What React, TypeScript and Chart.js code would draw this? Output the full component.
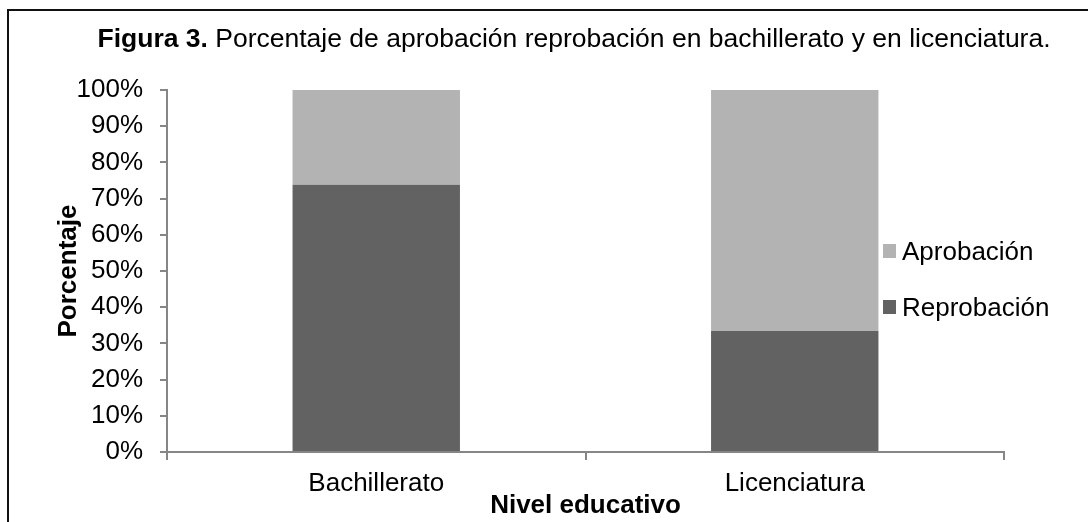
import React, { useEffect, useRef } from "react";
import { Chart, registerables } from "chart.js";

Chart.register(...registerables);

const categories = ["Bachillerato", "Licenciatura"];
const seriesNames = ["Reprobación", "Aprobación"];
const reprobacion = [73.8, 33.4];
const aprobacion = [26.2, 66.6];
const yMin = 0;
const yMax = 100;
const yStep = 10;
const titleBold = "Figura 3.";
const titleRest = " Porcentaje de aprobación reprobación en bachillerato y en licenciatura.";
const yTitle = "Porcentaje";
const xTitle = "Nivel educativo";

const FONT = '"Liberation Sans", Arial, Helvetica, sans-serif';
const DARK = "#626262";
const LIGHT = "#b3b3b3";
const AXIS = "#868686";

export default function App() {
  const ref = useRef<HTMLCanvasElement>(null);

  useEffect(() => {
    document.body.style.margin = "0";
    document.body.style.overflow = "hidden";
    const canvas = ref.current;
    if (!canvas) return;

    const decor = {
      id: "decor",
      afterDraw(chart: any) {
        const ctx = chart.ctx as CanvasRenderingContext2D;
        ctx.save();
        // frame
        ctx.fillStyle = "#111";
        ctx.fillRect(7, 9, 1081, 2);
        ctx.fillRect(7, 9, 2, 513);
        // title (mixed weight)
        ctx.textBaseline = "alphabetic";
        ctx.textAlign = "left";
        ctx.fillStyle = "#000";
        ctx.font = `bold 26.5px ${FONT}`;
        const wb = ctx.measureText(titleBold).width;
        ctx.font = `26.5px ${FONT}`;
        const wr = ctx.measureText(titleRest).width;
        const cx = 574;
        const x0 = cx - (wb + wr) / 2;
        ctx.font = `bold 26.5px ${FONT}`;
        ctx.fillText(titleBold, x0, 47);
        ctx.font = `26.5px ${FONT}`;
        ctx.fillText(titleRest, x0 + wb, 47);
        // legend (reversed order, like the stack)
        const ds = chart.data.datasets.slice().reverse();
        const rowsY = [252, 308];
        ctx.textBaseline = "middle";
        ds.forEach((d: any, i: number) => {
          const y = rowsY[i];
          ctx.fillStyle = d.backgroundColor;
          ctx.fillRect(883, y - 8, 13, 14);
          ctx.fillStyle = "#000";
          ctx.font = `26px ${FONT}`;
          ctx.fillText(d.label, 902, y + 1);
        });
        ctx.restore();
      },
    };

    const chart = new Chart(canvas, {
      type: "bar",
      data: {
        labels: categories,
        datasets: [
          {
            label: seriesNames[0],
            data: reprobacion,
            backgroundColor: DARK,
            borderWidth: 0,
            barPercentage: 0.4,
            categoryPercentage: 1.0,
          },
          {
            label: seriesNames[1],
            data: aprobacion,
            backgroundColor: LIGHT,
            borderWidth: 0,
            barPercentage: 0.4,
            categoryPercentage: 1.0,
          },
        ],
      },
      options: {
        responsive: false,
        animation: false,
        devicePixelRatio: 1,
        layout: { padding: { top: 90, right: 84, bottom: 0, left: 0 } },
        plugins: {
          legend: { display: false },
          title: { display: false },
          tooltip: { enabled: false },
        },
        scales: {
          x: {
            stacked: true,
            offset: true,
            grid: {
              display: true,
              drawOnChartArea: false,
              drawTicks: true,
              tickLength: 8,
              offset: true,
              color: AXIS,
              lineWidth: 2,
            },
            border: { display: true, color: AXIS, width: 2 },
            ticks: {
              color: "#000",
              font: { family: FONT, size: 26 },
              padding: 8,
              maxRotation: 0,
            },
            title: {
              display: true,
              text: xTitle,
              color: "#000",
              font: { family: FONT, size: 26, weight: "bold" },
              padding: { top: 0, bottom: 1 },
            },
            afterFit(scale: any) {
              scale.height = 70;
            },
          },
          y: {
            stacked: true,
            min: yMin,
            max: yMax,
            grid: {
              display: true,
              drawOnChartArea: false,
              drawTicks: true,
              tickLength: 7,
              color: AXIS,
              lineWidth: 2,
            },
            border: { display: true, color: AXIS, width: 2 },
            ticks: {
              stepSize: yStep,
              color: "#000",
              font: { family: FONT, size: 26 },
              padding: 17,
              callback: (v: any) => `${v}%`,
            },
            title: {
              display: true,
              text: yTitle,
              color: "#000",
              font: { family: FONT, size: 26, weight: "bold" },
              padding: { top: 53, bottom: 0 },
            },
            afterFit(scale: any) {
              scale.width = 167;
            },
          },
        },
      },
      plugins: [decor],
    });

    return () => chart.destroy();
  }, []);

  return (
    <div style={{ width: 1088, height: 522, position: "relative", overflow: "hidden", background: "#fff" }}>
      <canvas ref={ref} width={1088} height={522} style={{ display: "block" }} />
    </div>
  );
}
